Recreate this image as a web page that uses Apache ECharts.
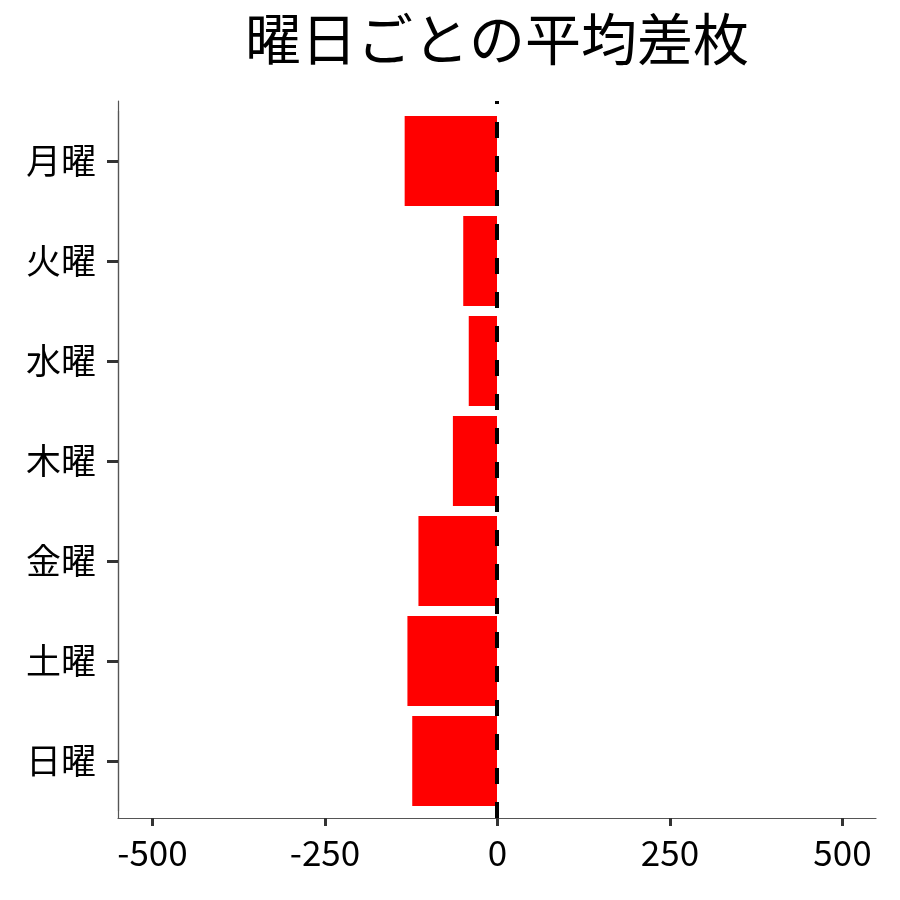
<!DOCTYPE html>
<html><head><meta charset="utf-8">
<script src="https://cdn.jsdelivr.net/npm/echarts@6/dist/echarts.min.js"></script>
<style>html,body{margin:0;padding:0;background:#fff}#c{width:900px;height:900px}</style>
</head><body><div id="c"></div>
<script>
const titleText = '曜日ごとの平均差枚';
const days = ['月曜','火曜','水曜','木曜','金曜','土曜','日曜'];
const avgDiff = [-134, -49, -41, -64, -114, -130, -123];
const xTicks = [-500, -250, 0, 250, 500];

const font = '"Noto Sans CJK JP","Noto Sans",sans-serif';
const chart = echarts.init(document.getElementById('c'));
chart.setOption({
  backgroundColor: '#fff',
  animation: false,
  title: {
    text: titleText, left: 492, top: 6, textAlign: 'center',
    textStyle: {fontFamily: font, fontSize: 56, fontWeight: 'normal', color: '#000'}
  },
  grid: [
    {left: 118, right: 24, top: 101, bottom: 82},
    {left: 118, right: 24, top: 111, bottom: 89},
    {left: 152.5, right: 57.5, top: 101, bottom: 82}
  ],
  xAxis: [
    {gridIndex: 0, type: 'value', min: -550, max: 550,
     axisLine: {show: true, onZero: false, lineStyle: {color: '#555', width: 1.2}},
     axisTick: {show: false}, axisLabel: {show: false}, splitLine: {show: false}},
    {gridIndex: 1, type: 'value', min: -550, max: 550, show: false},
    {gridIndex: 2, type: 'category', data: xTicks.map(String), boundaryGap: false,
     axisLine: {show: true, onZero: false, lineStyle: {color: '#555', width: 1.2}},
     axisTick: {show: true, length: 8, interval: 0, lineStyle: {color: '#333', width: 3}},
     axisLabel: {fontFamily: font, fontSize: 35, color: '#000', margin: 17, interval: 0},
     splitLine: {show: false}}
  ],
  yAxis: [
    {gridIndex: 0, type: 'value', min: 0, max: 1,
     axisLine: {show: true, onZero: false, lineStyle: {color: '#555', width: 1.2}},
     axisTick: {show: false}, axisLabel: {show: false}, splitLine: {show: false}},
    {gridIndex: 1, type: 'category', data: days, inverse: true,
     axisLine: {show: true, onZero: false, lineStyle: {color: '#555', width: 1.2}},
     axisTick: {show: true, alignWithLabel: true, length: 11, lineStyle: {color: '#333', width: 3}},
     axisLabel: {fontFamily: font, fontSize: 35, color: '#000', margin: 22},
     splitLine: {show: false}},
    {gridIndex: 2, type: 'value', min: 0, max: 1, show: false}
  ],
  series: [
    {type: 'bar', xAxisIndex: 1, yAxisIndex: 1, data: avgDiff,
     barWidth: '90%', itemStyle: {color: '#ff0000'}},
    {type: 'line', xAxisIndex: 0, yAxisIndex: 0, data: [], silent: true,
     markLine: {symbol: 'none', silent: true, label: {show: false},
       lineStyle: {color: '#000', width: 4, type: [16, 18]},
       data: [{xAxis: 0}]}}
  ]
});
</script></body></html>
